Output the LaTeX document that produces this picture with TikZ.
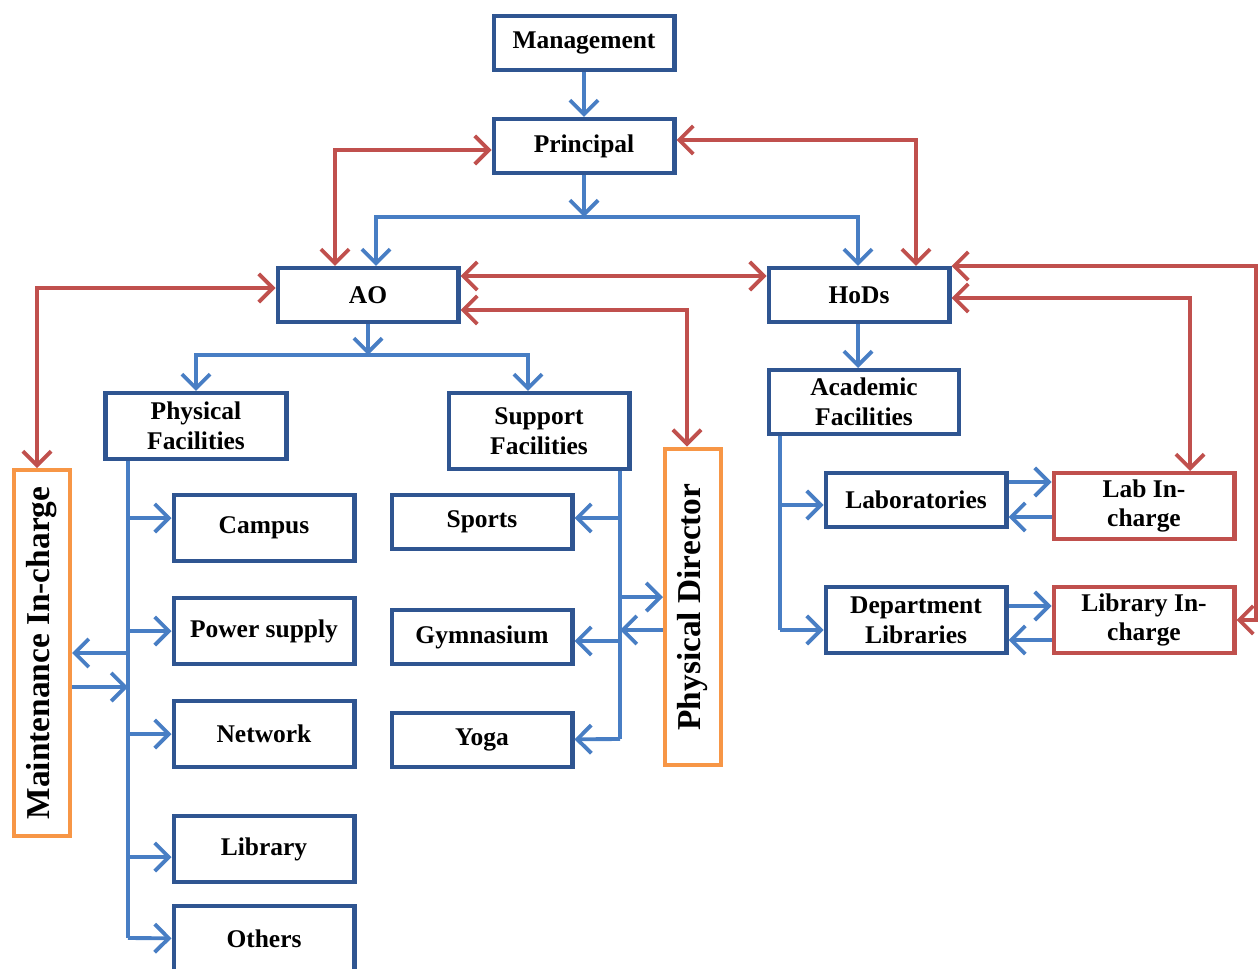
\documentclass[tikz,border=0pt]{standalone}
\usepackage{fontspec}
\setmainfont{Liberation Serif}
\usetikzlibrary{arrows.meta}

\definecolor{boxblue}{RGB}{47,85,145}
\definecolor{lineblue}{RGB}{72,126,196}
\definecolor{linered}{RGB}{192,80,77}
\definecolor{boxorange}{RGB}{247,150,70}

\begin{document}
\begin{tikzpicture}[
  x=0.02cm,y=-0.02cm,
  font=\fontsize{14.5}{17}\selectfont\bfseries,
  box/.style={draw=boxblue,line width=2.3pt,fill=white,align=center,minimum width=3.62cm,minimum height=1.08cm,inner sep=1pt},
  tallbox/.style={box,minimum height=1.32cm},
  redbox/.style={tallbox,draw=linered},
  sidebox/.style={draw=boxorange,line width=2.3pt,fill=white,minimum width=1.12cm,inner sep=1pt,font=\fontsize{19}{22}\selectfont\bfseries},
  bline/.style={draw=lineblue,line width=2.2pt},
  barrow/.style={bline,-{Straight Barb[length=8pt,width=16pt]}},
  rboth/.style={draw=linered,line width=2.2pt,{Straight Barb[length=8pt,width=16pt]}-{Straight Barb[length=8pt,width=16pt]}}
]
\useasboundingbox (0,0) rectangle (1260,969);

% top levels
\node[box] (mgmt) at (584,43) {Management};
\node[box] (prin) at (584,146) {Principal};
\node[box] (ao) at (368,295) {AO};
\node[box] (hods) at (859,295) {HoDs};

% AO side
\node[tallbox] (phys) at (196,426) {Physical\\Facilities};
\node[tallbox,minimum height=1.52cm] (supp) at (539,431) {Support\\Facilities};
\node[tallbox] (campus) at (264,528) {Campus};
\node[tallbox] (power) at (264,631) {Power supply};
\node[tallbox] (net) at (264,734) {Network};
\node[tallbox] (lib) at (264,849) {Library};
\node[tallbox] (others) at (264,939) {Others};
\node[box] (sports) at (482,522) {Sports};
\node[box] (gym) at (482,637) {Gymnasium};
\node[box] (yoga) at (482,740) {Yoga};
\node[sidebox,minimum height=7.32cm] (maint) at (42,653) {\rotatebox{90}{Maintenance In-charge}};
\node[sidebox,minimum height=6.34cm] (pd) at (693,607) {\rotatebox{90}{Physical Director}};

% HoDs side
\node[tallbox,minimum width=3.8cm,minimum height=1.28cm] (acad) at (864,402) {Academic\\Facilities};
\node[box] (labs) at (916,500) {Laboratories};
\node[tallbox] (dept) at (916,620) {Department\\Libraries};
\node[redbox] (labic) at (1144,506) {Lab In-\\charge};
\node[redbox] (libic) at (1144,620) {Library In-\\charge};

% blue connectors
\coordinate (j1) at (584,217);
\coordinate (j2) at (368,355);
\coordinate (pb) at (128,938);
\coordinate (sb) at (620,739);
\coordinate (ab) at (780,630);
\draw[barrow] (mgmt) -- (prin);
\draw[barrow] (prin) -- (j1);
\draw[barrow] (j1) -| (ao.north -| 376,0);
\draw[barrow] (j1) -| (hods.north -| 858,0);
\draw[barrow] (ao) -- (j2);
\draw[barrow] (j2) -| (phys);
\draw[barrow] (j2) -| (supp.north -| 528,0);
\draw[bline] (phys.south -| pb) -- (pb);
\draw[barrow] (pb) -- (others);
\draw[barrow] (pb |- 0,518) -- (campus.west |- 0,518);
\draw[barrow] (pb |- power) -- (power);
\draw[barrow] (pb |- net) -- (net);
\draw[barrow] (pb |- 0,857) -- (lib.west |- 0,857);
\draw[barrow] (pb |- maint) -- (maint);
\draw[barrow] (maint.east |- 0,687) -- (pb |- 0,687);
\draw[bline] (supp.south -| sb) -- (sb);
\draw[barrow] (sb) -- (yoga);
\draw[barrow] (sb |- 0,518) -- (sports.east |- 0,518);
\draw[barrow] (sb |- 0,641) -- (gym.east |- 0,641);
\draw[barrow] (sb |- 0,597) -- (pd.west |- 0,597);
\draw[barrow] (pd.west |- 0,630) -- (sb |- 0,630);
\draw[barrow] (hods.south -| 858,0) -- (acad.north -| 858,0);
\draw[bline] (acad.south -| ab) -- (ab);
\draw[barrow] (ab) -- (dept.west |- ab);
\draw[barrow] (ab |- 0,505) -- (labs.west |- 0,505);
\draw[barrow] (labs.east |- 0,482) -- (labic.west |- 0,482);
\draw[barrow] (labic.west |- 0,517) -- (labs.east |- 0,517);
\draw[barrow] (dept.east |- 0,606) -- (libic.west |- 0,606);
\draw[barrow] (libic.west |- 0,640) -- (dept.east |- 0,640);

% red connectors
\draw[rboth] (ao.north -| 335,0) |- (prin.west |- 0,150);
\draw[rboth] (prin.east |- 0,140) -| (hods.north -| 916,0);
\draw[rboth] (ao.east |- 0,276) -- (hods.west |- 0,276);
\draw[rboth] (ao.east |- 0,310) -| (pd.north -| 687,0);
\draw[rboth] (ao.west |- 0,288) -| (maint.north -| 37,0);
\draw[rboth] (hods.east |- 0,266) -- (1256,266) |- (libic.east);
\draw[rboth] (hods.east |- 0,298) -| (labic.north -| 1190,0);
\end{tikzpicture}
\end{document}
